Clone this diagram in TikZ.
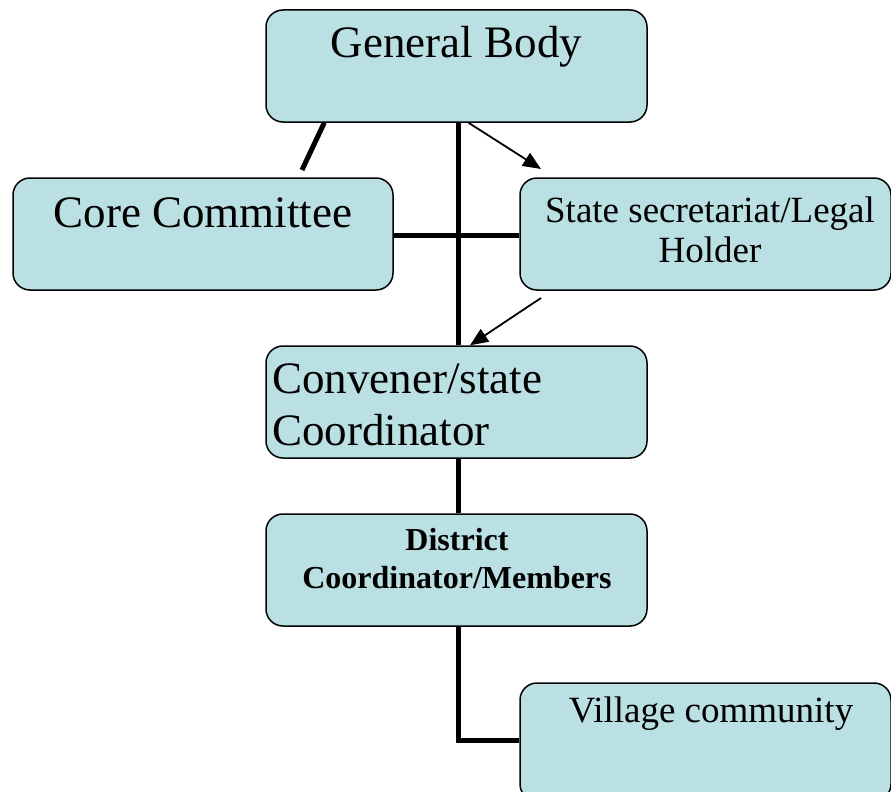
\documentclass[tikz,border=0pt]{standalone}
\usepackage{fontspec}
\setmainfont{Liberation Serif}
\usetikzlibrary{arrows.meta,calc}
\definecolor{boxfill}{RGB}{187,224,227}
\begin{document}
\begin{tikzpicture}[x=1pt,y=-1pt,
  box/.style={draw=black,fill=boxfill,rounded corners=17pt,line width=1.5pt,inner sep=0pt,minimum width=381pt,minimum height=112pt},
  thickline/.style={line width=5pt},
  thinarrow/.style={line width=1.8pt,-{Triangle[length=18pt,width=15pt]}},
  big/.style={font=\rmfamily\fontsize{45}{52}\selectfont},
  mid/.style={font=\rmfamily\fontsize{37}{40}\selectfont},
  small/.style={font=\rmfamily\bfseries\fontsize{32}{37}\selectfont},
  lbl/.style={inner sep=0pt,anchor=base}
]
\useasboundingbox (0,0) rectangle (891,792);
\clip (0,0) rectangle (891,792);
% boxes
\node[box] (gb) at (456.5,66) {};
\node[box,minimum width=380pt] (core) at (203,234) {};
\node[box,minimum width=371pt] (state) at (705.5,234) {};
\node[box] (conv) at (456.5,402) {};
\node[box] (dist) at (456.5,570) {};
\node[box,minimum width=371pt,minimum height=118pt] (vill) at (705.5,742) {};
% texts
\node[lbl,big] (tgb) at (456.5,58) {General Body};
\node[lbl,big] (tcore) at (203,227) {Core Committee};
\node[lbl,mid] (tst1) at (710,222) {State secretariat/Legal};
\node[lbl,mid] (tst2) at (710,262) {Holder};
\node[lbl,big,anchor=base west] (tcv1) at (272,393) {Convener/state};
\node[lbl,big,anchor=base west] (tcv2) at (272,445) {Coordinator};
\node[lbl,small] (tds1) at (457,550) {District};
\node[lbl,small] (tds2) at (457,588) {Coordinator/Members};
\node[lbl,mid] (tvl) at (711,722) {Village community};
% connectors
\coordinate (slantend) at (302,170);
\coordinate (a1end) at (541,169);
\coordinate (a2start) at (541,298);
\coordinate (elbow) at (458,740);
\draw[thickline] ($(gb.south west)+(59,0)$) -- (slantend);
\draw[thickline] ($(gb.south)+(1.5,0)$) -- ($(conv.north)+(1.5,0)$);
\draw[thickline] (core.east |- 0,235) -- (state.west |- 0,235);
\draw[thickline] ($(conv.south)+(1.5,0)$) -- ($(dist.north)+(1.5,0)$);
\draw[thickline] ($(dist.south)+(1.5,0)$) -- (elbow) -- (vill.west |- elbow);
\draw[thinarrow] ($(gb.south)+(12,0)$) -- (a1end);
\draw[thinarrow] (a2start) -- ($(conv.north)+(13.5,0)$);
\end{tikzpicture}
\end{document}
